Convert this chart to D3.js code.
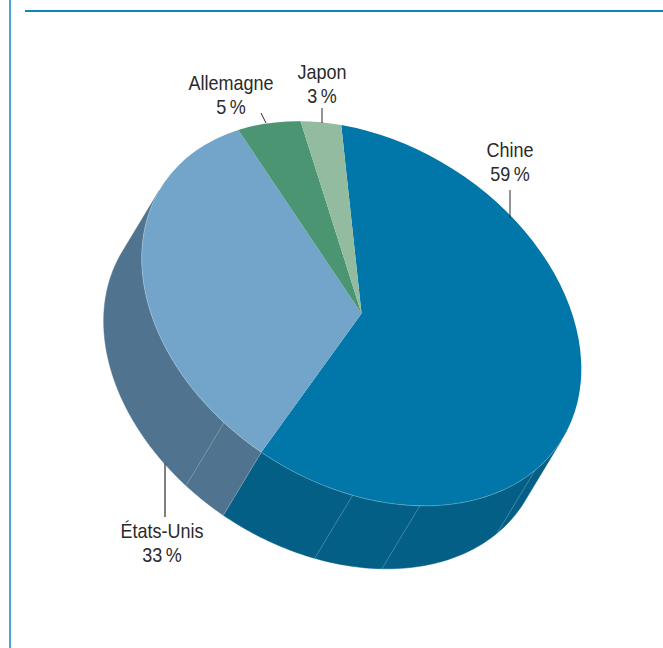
<!DOCTYPE html>
<html>
<head>
<meta charset="utf-8">
<script src="https://cdnjs.cloudflare.com/ajax/libs/d3/7.8.5/d3.min.js"></script>
<style>
  html, body { margin: 0; padding: 0; background: #fff; }
  svg { display: block; }
  text { font-family: "Liberation Sans", sans-serif; font-size: 20px; fill: #2a2a2c; text-anchor: middle; }
</style>
</head>
<body>
<svg id="chart" width="663" height="648"></svg>
<script>
const countries = ["Chine", "États-Unis", "Allemagne", "Japon"];
const shares = [59, 33, 5, 3];
const topColors = ["#0077a8", "#73a5cb", "#4b9573", "#92bba0"];
const wallColors = ["#045f87", "#50748f", "#3d7a5e", "#789a83"];

// the pie is a circle of radius R seen tilted: rotate + scale gives the ellipse
const R = 100;
const cx = 361.5, cy = 313.5;
const tilt = 32.5;
const rx = 236.8, ry = 171;
const depth = [-38, 63];
const start = -30;

// thin lines drawn on the wall, angles in degrees (d3.arc convention)
const seams = [103.1, 139.9, 157.6, 194];

const rad = d => d * Math.PI / 180;

const svg = d3.select("#chart");

// frame
svg.append("line").attr("x1", 10).attr("x2", 10).attr("y1", 0).attr("y2", 648)
    .attr("stroke", "#4aa5cc").attr("stroke-width", 2);
svg.append("line").attr("x1", 25).attr("x2", 663).attr("y1", 11).attr("y2", 11)
    .attr("stroke", "#0f86b5").attr("stroke-width", 2);

const pie = d3.pie().sort(null).startAngle(rad(start)).endAngle(rad(start + 360));
const arcs = pie(shares);

// unit circle angle -> screen point on the top face
function project(a) {
    let u = rx * Math.sin(a), v = -ry * Math.cos(a);
    let c = Math.cos(rad(tilt)), s = Math.sin(rad(tilt));
    return [cx + u * c - v * s, cy + u * s + v * c];
}

// the wall shows where the outward normal faces the depth direction
const c0 = Math.cos(rad(tilt)), s0 = Math.sin(rad(tilt));
const du = (depth[0] * c0 + depth[1] * s0) / rx;
const dv = (-depth[0] * s0 + depth[1] * c0) / ry;
const mid = Math.atan2(du, -dv);

function normAngle(a) {
    while (a < mid - Math.PI) a += 2 * Math.PI;
    while (a > mid + Math.PI) a -= 2 * Math.PI;
    return a;
}

const line = d3.line();

const walls = svg.append("g");
arcs.forEach((d, i) => {
    // walk the slice in small steps and keep only the visible part
    let pts = d3.range(0, 201).map(k => d.startAngle + (d.endAngle - d.startAngle) * k / 200)
        .filter(a => Math.abs(normAngle(a) - mid) <= Math.PI / 2)
        .map(project);
    if (pts.length < 2) return;
    let low = pts.map(p => [p[0] + depth[0], p[1] + depth[1]]).reverse();
    walls.append("path")
        .attr("d", line(pts.concat(low)) + "Z")
        .attr("fill", wallColors[i])
        .attr("stroke", wallColors[i])
        .attr("stroke-width", 0.5);
});

// seams on the wall + the edge between the two visible slices
const seamAll = seams.map(rad).concat([arcs[0].endAngle]);
seamAll.forEach(a => {
    let p = project(a);
    svg.append("line")
        .attr("x1", p[0]).attr("y1", p[1])
        .attr("x2", p[0] + depth[0]).attr("y2", p[1] + depth[1])
        .attr("stroke", "#fff")
        .attr("stroke-opacity", 0.3)
        .attr("stroke-width", 0.8);
});

// top face
const arc = d3.arc().innerRadius(0).outerRadius(R);
const face = svg.append("g")
    .attr("transform", `translate(${cx},${cy}) rotate(${tilt}) scale(${rx / R},${ry / R})`);
face.selectAll("path").data(arcs).join("path")
    .attr("d", arc)
    .attr("fill", (d, i) => topColors[i]);

// light edge along the front of the top face
const edge = d3.range(0, 201)
    .map(k => mid - Math.PI / 2 + Math.PI * k / 200)
    .map(project);
svg.append("path")
    .attr("d", line(edge))
    .attr("fill", "none")
    .attr("stroke", "#fff")
    .attr("stroke-opacity", 0.3)
    .attr("stroke-width", 0.8);

// labels and leaders, same order as countries
const labelAt = [[510, 157], [162, 538], [231, 90], [322, 79]];
const leaders = [[510, 190, 510, 218], [165, 463, 165, 517], [261, 113, 266, 123], [322, 108, 322, 123]];

leaders.forEach((l, i) => {
    svg.append("line")
        .attr("x1", l[0]).attr("y1", l[1]).attr("x2", l[2]).attr("y2", l[3])
        .attr("stroke", i === 1 ? "#555" : "#2a2a2c")
        .attr("stroke-width", i === 1 ? 1.5 : 1);
});

// the original face is condensed, so squeeze the text horizontally
const squeeze = 0.9;
countries.forEach((c, i) => {
    svg.append("text")
        .attr("transform", `translate(${labelAt[i][0]},${labelAt[i][1]}) scale(${squeeze},1)`)
        .text(c);
    svg.append("text")
        .attr("transform", `translate(${labelAt[i][0]},${labelAt[i][1] + 24}) scale(${squeeze},1)`)
        .text(shares[i] + "\u2009%");
});
</script>
</body>
</html>
